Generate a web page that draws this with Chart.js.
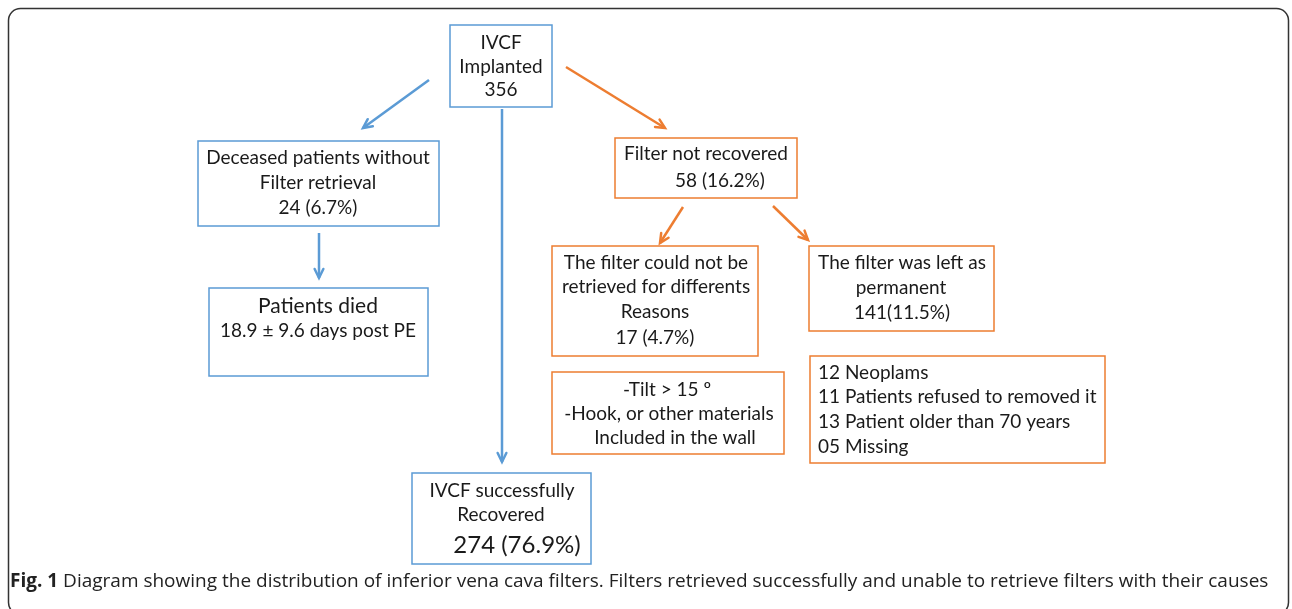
<!DOCTYPE html>
<html>
<head>
<meta charset="utf-8">
<script src="https://cdn.jsdelivr.net/npm/chart.js@4/dist/chart.umd.min.js"></script>
<style>
html, body { margin: 0; padding: 0; background: #fff; }
#wrap { width: 1292px; height: 609px; position: relative; }
</style>
</head>
<body>
<div id="wrap"><canvas id="flowChart"></canvas></div>
<script>

// ================= DATA =================

const nodeLabels = [
    ["IVCF", "Implanted", "356"],
    ["Deceased patients without", "Filter retrieval", "24 (6.7%)"],
    ["Patients died", "18.9 ± 9.6 days post PE"],
    ["IVCF successfully", "Recovered", "274 (76.9%)"],
    ["Filter not recovered", "58 (16.2%)"],
    ["The filter could not be", "retrieved for differents", "Reasons", "17 (4.7%)"],
    ["The filter was left as", "permanent", "141(11.5%)"],
    ["-Tilt > 15 º", "-Hook, or other materials", "Included in the wall"],
    ["12 Neoplams", "11 Patients refused to removed it", "13 Patient older than 70 years", "05 Missing"]
];

// from -> to (index into nodeLabels)
const links = [[0, 1], [0, 3], [1, 2], [0, 4], [4, 5], [4, 6]];

const captionBold = "Fig. 1";
const captionText = " Diagram showing the distribution of inferior vena cava filters. Filters retrieved successfully and unable to retrieve filters with their causes";


// ================= LAYOUT (axis units = pixels of the figure) =================

const boxes = [
    [450, 25, 552, 107],
    [198, 141, 439, 226],
    [209, 288, 428, 376],
    [412, 473, 591, 564],
    [615, 138, 797, 198],
    [552, 246, 758, 356],
    [809, 246, 994, 331],
    [552, 372, 784, 454],
    [810, 356, 1105, 463]
];

const lineX = [
    [501, 501, 501],
    [318, 318, 318],
    [318, 318],
    [502, 501, 517],
    [706, 720],
    [656, 656, 655, 655],
    [902, 901, 902],
    [667, 669, 675],
    [818, 818, 818, 818]
];

const lineY = [
    [43, 67, 90],
    [158, 183, 208],
    [306, 331],
    [491, 515, 545],
    [154, 181],
    [263, 287, 312, 338],
    [263, 288, 313],
    [390, 414, 438],
    [373, 397, 422, 447]
];

const arrows = [
    [429, 80, 363, 128],
    [502, 109, 502, 462],
    [319, 233, 319, 278],
    [566, 67, 665, 128],
    [683, 207, 660, 243],
    [773, 206, 808, 240]
];

const BLUE = "#5b9bd5";
const ORANGE = "#ed7d31";
const boxColors = [BLUE, BLUE, BLUE, BLUE, ORANGE, ORANGE, ORANGE, ORANGE, ORANGE];
const arrowColors = [BLUE, BLUE, BLUE, ORANGE, ORANGE, ORANGE];

const FONT = "Lato";


// ================= PLUGIN: frame, boxes, text, arrow heads =================

const flowPlugin = {

    id: "flow",

    beforeDraw(chart) {
        const ctx = chart.ctx;
        ctx.save();
        ctx.fillStyle = "#fff";
        ctx.fillRect(0, 0, chart.width, chart.height);
        // outer rounded frame
        ctx.strokeStyle = "#333";
        ctx.lineWidth = 1.5;
        ctx.beginPath();
        ctx.roundRect(8.5, 8.5, 1280, 606, 12);
        ctx.stroke();
        ctx.restore();
    },

    afterDatasetsDraw(chart) {
        const ctx = chart.ctx;
        const xs = chart.scales.x;
        const ys = chart.scales.y;

        ctx.save();

        // boxes
        boxes.forEach((b, i) => {
            const x1 = xs.getPixelForValue(b[0]);
            const y1 = ys.getPixelForValue(b[1]);
            const x2 = xs.getPixelForValue(b[2]);
            const y2 = ys.getPixelForValue(b[3]);
            ctx.strokeStyle = boxColors[i];
            ctx.lineWidth = 1.5;
            ctx.strokeRect(x1, y1, x2 - x1, y2 - y1);
        });

        // box text
        ctx.fillStyle = "#1a1a1a";
        ctx.textBaseline = "middle";
        nodeLabels.forEach((lines, i) => {
            ctx.textAlign = i === 8 ? "left" : "center";
            lines.forEach((t, j) => {
                let size = 19;
                if (i === 2 && j === 0) size = 21;
                if (i === 3 && j === 2) size = 24;
                ctx.font = size + "px " + FONT;
                ctx.fillText(t, xs.getPixelForValue(lineX[i][j]), ys.getPixelForValue(lineY[i][j]));
            });
        });

        // arrow heads at the end point of every arrow dataset
        chart.data.datasets.forEach((ds, i) => {
            const pts = chart.getDatasetMeta(i).data;
            const a = pts[0], b = pts[1];
            const ang = Math.atan2(b.y - a.y, b.x - a.x);
            const len = 10, spread = 0.45;
            ctx.strokeStyle = ds.borderColor;
            ctx.lineWidth = 2.5;
            ctx.lineCap = "round";
            ctx.beginPath();
            ctx.moveTo(b.x - len * Math.cos(ang - spread), b.y - len * Math.sin(ang - spread));
            ctx.lineTo(b.x, b.y);
            ctx.lineTo(b.x - len * Math.cos(ang + spread), b.y - len * Math.sin(ang + spread));
            ctx.stroke();
        });

        // caption
        ctx.textAlign = "left";
        ctx.fillStyle = "#222";
        ctx.font = "bold 19px 'Open Sans'";
        const cx = xs.getPixelForValue(10);
        const cy = ys.getPixelForValue(582);
        ctx.fillText(captionBold, cx, cy);
        const w = ctx.measureText(captionBold).width;
        ctx.font = "19px 'Open Sans'";
        ctx.fillText(captionText, cx + w, cy);

        ctx.restore();
    }

};


// ================= CHART =================

const flowChart = document.getElementById("flowChart");

new Chart(flowChart, {

    type: "scatter",

    data: {

        datasets: arrows.map((a, i) => ({
            data: [
                { x: a[0], y: a[1] },
                { x: a[2], y: a[3] }
            ],
            showLine: true,
            borderColor: arrowColors[i],
            borderWidth: 2.5,
            pointRadius: 0,
            pointHoverRadius: 0
        }))

    },

    options: {

        responsive: true,
        maintainAspectRatio: false,
        animation: false,
        events: [],

        layout: { padding: 0 },

        scales: {
            x: { type: "linear", min: 0, max: 1292, display: false },
            y: { type: "linear", min: 0, max: 609, reverse: true, display: false }
        },

        plugins: {
            legend: { display: false },
            tooltip: { enabled: false }
        }

    },

    plugins: [flowPlugin]

});

</script>
</body>
</html>
